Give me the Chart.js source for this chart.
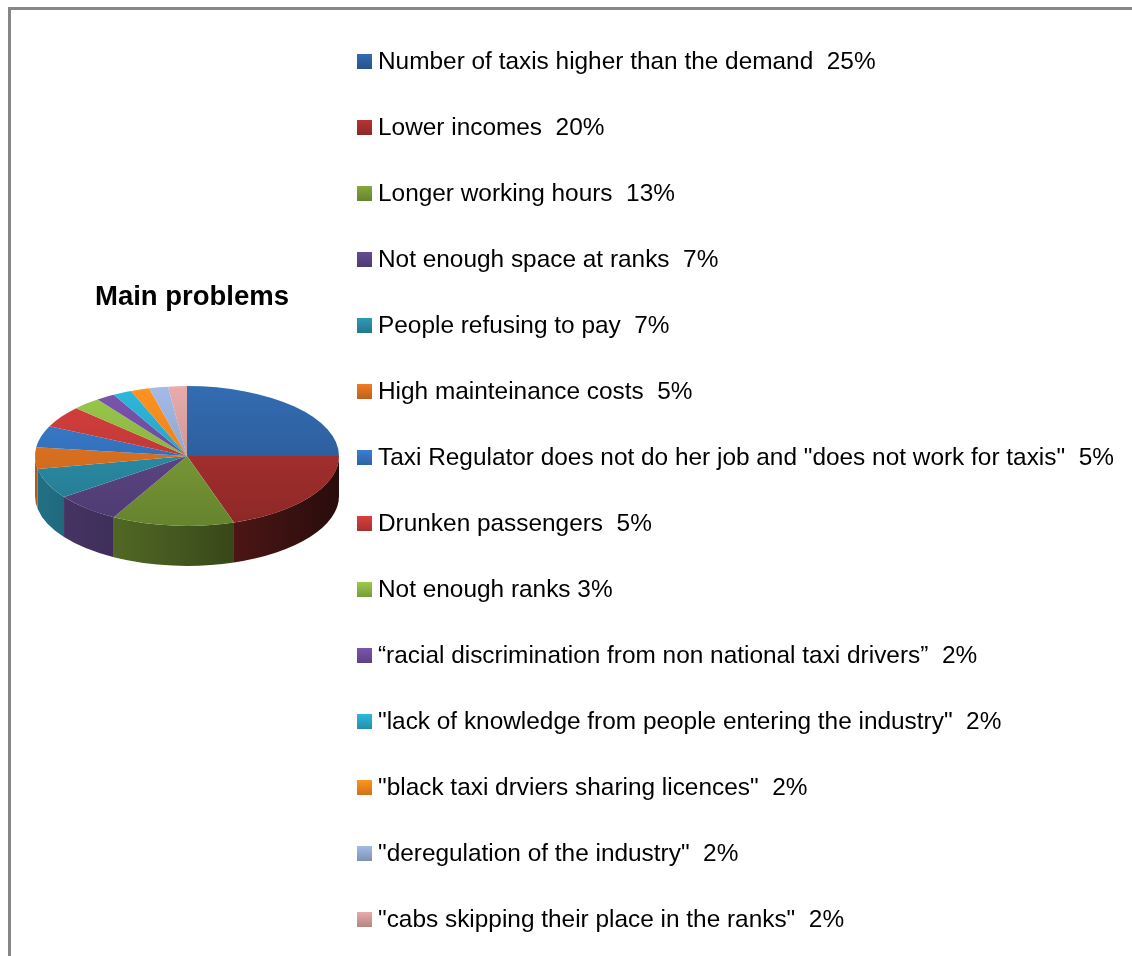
<!DOCTYPE html>
<html>
<head>
    <title>Main problems</title>
    <script src="https://cdn.jsdelivr.net/npm/chart.js"></script>
    <style>
        body { margin: 0; background: #fff; font-family: "Liberation Sans", Arial, sans-serif; }
        #wrap { position: relative; width: 1132px; height: 956px; overflow: hidden; }
        #frame { position: absolute; left: 8px; top: 7px; width: 1200px; height: 1000px;
                 border-top: 3px solid #868686; border-left: 3px solid #868686; }
        #pieChart { position: absolute; left: 0; top: 0; }
        #title { position: absolute; left: 82px; top: 282px; width: 220px; text-align: center;
                 font-weight: bold; font-size: 27.5px; line-height: 27px; color: #000; }
        #legend { position: absolute; left: 357px; top: 28px; }
        .row { height: 66px; display: flex; align-items: center; white-space: pre;
               font-size: 24.4px; line-height: 24px; color: #000; }
        .box { width: 15px; height: 15px; margin-right: 6px; flex: none; }
    </style>
</head>
<body>
<div id="wrap">
    <div id="frame"></div>
    <canvas id="pieChart" width="1132" height="956"></canvas>
    <div id="title">Main problems</div>
    <div id="legend"></div>
</div>

<script>
    // legend entries as written in the chart
    const labels = [
        'Number of taxis higher than the demand  25%',
        'Lower incomes  20%',
        'Longer working hours  13%',
        'Not enough space at ranks  7%',
        'People refusing to pay  7%',
        'High mainteinance costs  5%',
        'Taxi Regulator does not do her job and "does not work for taxis"  5%',
        'Drunken passengers  5%',
        'Not enough ranks 3%',
        '\u201cracial discrimination from non national taxi drivers\u201d  2%',
        '"lack of knowledge from people entering the industry"  2%',
        '"black taxi drviers sharing licences"  2%',
        '"deregulation of the industry"  2%',
        '"cabs skipping their place in the ranks"  2%'
    ];
    const values = [25, 20, 13, 7, 7, 5, 5, 5, 3, 2, 2, 2, 2, 2];
    const colors = ['#2e62a2', '#a52f2e', '#789a36', '#5c4585', '#2a8ca6', '#dc7120', '#3573c0',
                    '#c53a38', '#8db843', '#6f4d9e', '#2aa7c9', '#f3861e', '#94aad2', '#d39b9b'];

    const tilt = 0.46;   // vertical squash of the pie top
    const depth = 40;    // thickness of the pie side

    function shade(hex, f) {
        const n = parseInt(hex.slice(1), 16);
        const c = [n >> 16, (n >> 8) & 255, n & 255].map(v => Math.max(0, Math.min(255, Math.round(v * f))));
        return 'rgb(' + c.join(',') + ')';
    }

    // draws the side wall, then squashes the top face into an ellipse
    const pie3d = {
        id: 'pie3d',
        beforeDatasetsDraw(chart) {
            const ctx = chart.ctx;
            const arcs = chart.getDatasetMeta(0).data;
            const cx = arcs[0].x, cy = arcs[0].y, r = arcs[0].outerRadius;
            arcs.forEach((arc, i) => {
                const a1 = Math.max(arc.startAngle, 0);
                const a2 = Math.min(arc.endAngle, Math.PI);
                if (a2 <= a1) return;
                const g = ctx.createLinearGradient(cx - r, 0, cx + r, 0);
                g.addColorStop(0, shade(colors[i], 0.8));
                g.addColorStop(0.5, shade(colors[i], 0.55));
                g.addColorStop(1, shade(colors[i], 0.25));
                ctx.beginPath();
                ctx.ellipse(cx, cy, r, r * tilt, 0, a1, a2);
                ctx.ellipse(cx, cy + depth, r, r * tilt, 0, a2, a1, true);
                ctx.closePath();
                ctx.fillStyle = g;
                ctx.fill();
            });
            ctx.save();
            ctx.translate(cx, cy);
            ctx.scale(1, tilt);
            ctx.translate(-cx, -cy);
        },
        afterDatasetsDraw(chart) {
            chart.ctx.restore();
        }
    };

    new Chart(document.getElementById('pieChart'), {
        type: 'pie',
        data: {
            labels: labels,
            datasets: [{
                data: values,
                backgroundColor: c => {
                    const a = c.chart.chartArea;
                    const base = colors[c.dataIndex];
                    if (!a) return base;
                    const g = c.chart.ctx.createLinearGradient(0, a.top, 0, a.bottom);
                    g.addColorStop(0, shade(base, 1.1));
                    g.addColorStop(1, shade(base, 0.85));
                    return g;
                },
                borderWidth: 0,
                offset: 0,
                hoverOffset: 0
            }]
        },
        options: {
            responsive: false,
            animation: false,
            events: [],
            layout: { padding: { left: 35, right: 793, top: 304, bottom: 348 } },
            plugins: {
                legend: { display: false },
                tooltip: { enabled: false }
            }
        },
        plugins: [pie3d]
    });

    // legend list on the right
    const legend = document.getElementById('legend');
    labels.forEach((text, i) => {
        const row = document.createElement('div');
        row.className = 'row';
        const box = document.createElement('span');
        box.className = 'box';
        box.style.background = 'linear-gradient(' + shade(colors[i], 1.1) + ',' + shade(colors[i], 0.85) + ')';
        row.appendChild(box);
        row.appendChild(document.createTextNode(text));
        legend.appendChild(row);
    });
</script>
</body>
</html>
